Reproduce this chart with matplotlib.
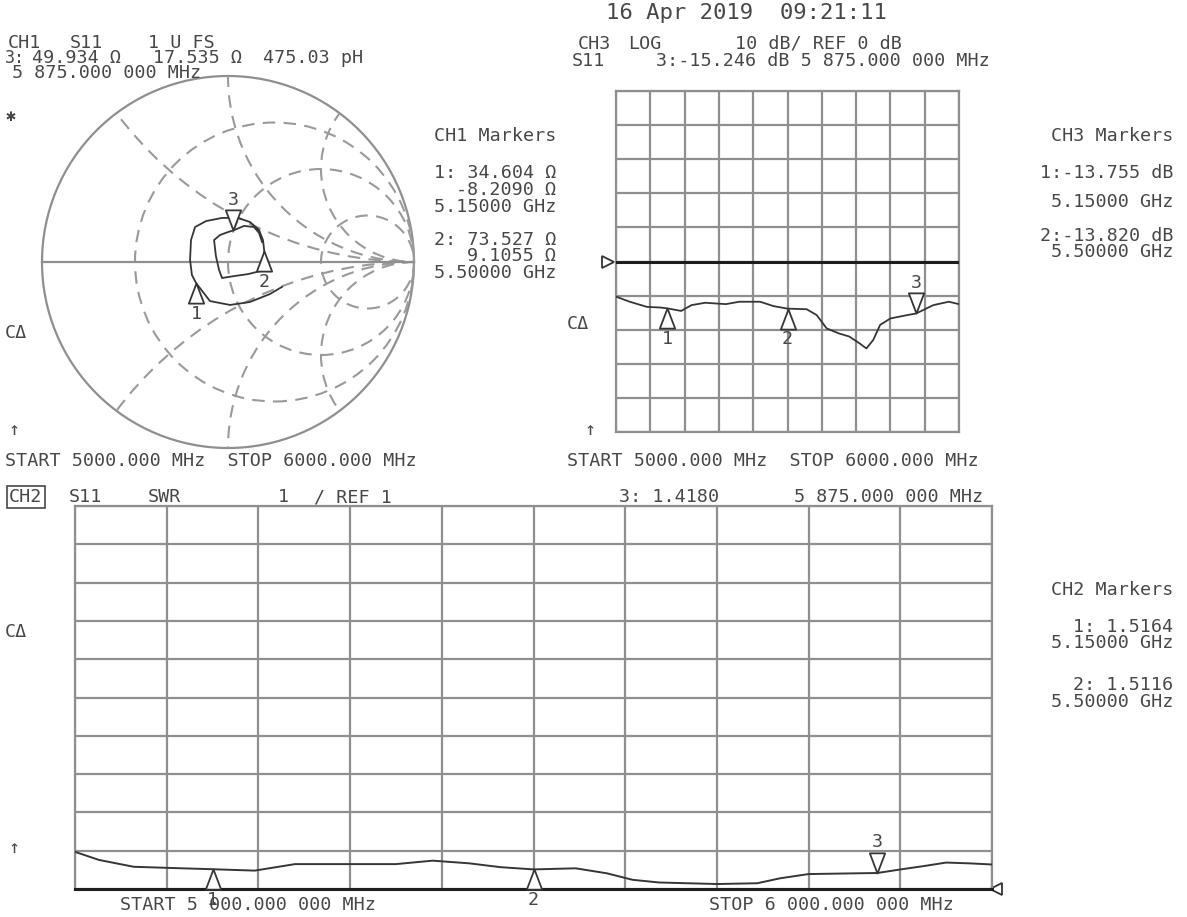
import matplotlib
matplotlib.use('Agg')
import matplotlib.pyplot as plt
import numpy as np
from matplotlib.path import Path
from matplotlib.patches import Circle
import matplotlib.transforms as mtransforms

smith_freq_ghz = [5.00, 5.03, 5.06, 5.09, 5.12, 5.15, 5.18, 5.21, 5.25, 5.29, 5.33,
                  5.37, 5.41, 5.44, 5.47, 5.485, 5.50, 5.53, 5.56, 5.60, 5.64, 5.68,
                  5.71, 5.74, 5.78, 5.82, 5.85, 5.875, 5.90, 5.93, 5.96, 6.00]
gamma_re = [0.290, 0.226, 0.118, 0.011, -0.097, -0.171, -0.194, -0.204, -0.199, -0.177, -0.118,
            -0.032, 0.054, 0.118, 0.167, 0.188, 0.195, 0.188, 0.177, 0.108, 0.038, -0.032,
            -0.048, -0.065, -0.075, -0.043, 0.000, 0.029, 0.086, 0.140, 0.167, 0.183]
gamma_im = [-0.134, -0.172, -0.215, -0.231, -0.210, -0.114, -0.070, 0.011, 0.118, 0.188, 0.220,
            0.237, 0.237, 0.215, 0.172, 0.118, 0.059, 0.000, -0.048, -0.065, -0.075, -0.086,
            -0.043, 0.032, 0.118, 0.145, 0.161, 0.170, 0.194, 0.188, 0.156, 0.108]

logmag_freq_ghz = [5.00, 5.04, 5.09, 5.13, 5.15, 5.19, 5.22, 5.26, 5.32, 5.36, 5.42, 5.46,
                   5.50, 5.556, 5.585, 5.614, 5.65, 5.68, 5.71, 5.73, 5.75, 5.77, 5.80,
                   5.85, 5.875, 5.925, 5.97, 6.00]
logmag_db = [-10.3, -11.8, -13.3, -13.5, -13.755, -14.5, -12.8, -12.1, -12.5, -11.8, -11.8, -13.1,
             -13.82, -14.0, -15.7, -19.6, -21.1, -22.0, -24.0, -25.5, -23.0, -18.6, -16.7,
             -15.7, -15.246, -12.8, -11.8, -12.5]

swr_freq_ghz = [5.000, 5.026, 5.064, 5.117, 5.150, 5.196, 5.240, 5.300, 5.350, 5.390, 5.430,
                5.464, 5.500, 5.546, 5.580, 5.608, 5.637, 5.700, 5.744, 5.769, 5.800, 5.875,
                5.900, 5.926, 5.950, 5.975, 6.000]
swr = [1.97, 1.76, 1.58, 1.54, 1.5164, 1.48, 1.65, 1.65, 1.65, 1.74, 1.67,
       1.57, 1.5116, 1.54, 1.41, 1.24, 1.17, 1.13, 1.15, 1.28, 1.39, 1.418,
       1.51, 1.60, 1.69, 1.67, 1.64]

marker_freqs = [5.15, 5.50, 5.875]
marker_labels = ['1', '2', '3']
marker_down = [False, False, True]

smith_r_circles = [1/3, 1.0, 3.0]
smith_x_arcs = [0.5, 1.0, 2.0, -0.5, -1.0, -2.0]

# ---------------- style ----------------
W, H = 1187, 917
fig = plt.figure(figsize=(W / 100, H / 100), dpi=100)
fig.patch.set_facecolor('white')

TXT = '#474747'
GRID = '#8f8f8f'
TRACE = '#363636'
FAM = ['DejaVu Sans Mono', 'DejaVu Sans']
FS = 13.2


def px_axes(l, t, r, b):
    ax = fig.add_axes([l / W, 1 - b / H, (r - l) / W, (b - t) / H])
    ax.set_facecolor('none')
    return ax


def T(x, y, s, ha='left', size=FS, **kw):
    return fig.text(x / W, 1 - y / H, s, ha=ha, va='center', fontsize=size,
                    family=FAM, color=TXT, **kw)


tri_up = Path([(0, 0), (-0.38, -1), (0.38, -1), (0, 0)],
              [Path.MOVETO, Path.LINETO, Path.LINETO, Path.CLOSEPOLY])
tri_dn = Path([(0, 0), (-0.38, 1), (0.38, 1), (0, 0)],
              [Path.MOVETO, Path.LINETO, Path.LINETO, Path.CLOSEPOLY])


def add_marker(ax, x, y, label, down):
    ax.plot([x], [y], marker=tri_dn if down else tri_up, ms=29, mfc='white',
            mec=TRACE, mew=1.3, ls='none', clip_on=False, zorder=6)
    ax.annotate(label, (x, y), xytext=(0, 22 if down else -22), textcoords='offset points',
                ha='center', va='center', fontsize=FS, family=FAM, color=TXT,
                annotation_clip=False, zorder=7)


def grid_axes(ax, xlim, ylim, nx, ny):
    ax.set_xlim(*xlim)
    ax.set_ylim(*ylim)
    ax.set_xticks(np.linspace(xlim[0], xlim[1], nx + 1))
    ax.set_yticks(np.linspace(ylim[0], ylim[1], ny + 1))
    ax.tick_params(length=0, labelbottom=False, labelleft=False)
    ax.grid(True, color=GRID, lw=1.6)
    for s in ax.spines.values():
        s.set_color(GRID)
        s.set_linewidth(1.6)


# ---------------- Smith chart (CH1) ----------------
cx, cy, R = 228, 262, 186
lim = 1.03
ax1 = px_axes(cx - R * lim, cy - R * lim, cx + R * lim, cy + R * lim)
ax1.set_xlim(-lim, lim)
ax1.set_ylim(-lim, lim)
ax1.axis('off')
clip = Circle((0, 0), 1.0, transform=ax1.transData)
ax1.add_patch(Circle((0, 0), 1.0, fill=False, ec=GRID, lw=1.6))
dash = (0, (6, 4))
for r in smith_r_circles:
    ax1.add_patch(Circle((r / (r + 1), 0), 1 / (r + 1), fill=False, ec='#9a9a9a',
                         lw=1.5, ls=dash))
for xv in smith_x_arcs:
    c = Circle((1, 1 / xv), 1 / abs(xv), fill=False, ec='#9a9a9a', lw=1.5, ls=dash)
    ax1.add_patch(c)
    c.set_clip_path(clip)
ax1.plot([-1, 1], [0, 0], color=GRID, lw=1.6)
ax1.plot(gamma_re, gamma_im, color=TRACE, lw=1.3, zorder=5)
for f, lab, dn in zip(marker_freqs, marker_labels, marker_down):
    i = smith_freq_ghz.index(f)
    add_marker(ax1, gamma_re[i], gamma_im[i], lab, dn)

# ---------------- Log magnitude (CH3) ----------------
ax3 = px_axes(616, 91, 959, 432)
grid_axes(ax3, (5.0, 6.0), (-50, 50), 10, 10)
ax3.axhline(0, color='#1e1e1e', lw=2.2, zorder=4)
ax3.plot(logmag_freq_ghz, logmag_db, color=TRACE, lw=1.3, zorder=5)
bt3 = mtransforms.blended_transform_factory(ax3.transAxes, ax3.transData)
ax3.plot([-0.024], [0], transform=bt3, marker='>', ms=8, mfc='white', mec='#333',
         mew=1.3, clip_on=False)
for f, lab, dn in zip(marker_freqs, marker_labels, marker_down):
    i = logmag_freq_ghz.index(f)
    add_marker(ax3, f, logmag_db[i], lab, dn)

# ---------------- SWR (CH2) ----------------
ax2 = px_axes(75, 506, 992, 889)
grid_axes(ax2, (5.0, 6.0), (1, 11), 10, 10)
ax2.spines['bottom'].set_color('#1e1e1e')
ax2.spines['bottom'].set_linewidth(2.2)
ax2.plot(swr_freq_ghz, swr, color=TRACE, lw=1.4, zorder=5)
bt2 = mtransforms.blended_transform_factory(ax2.transAxes, ax2.transData)
ax2.plot([1.004], [1], transform=bt2, marker='<', ms=8, mfc='white', mec='#333',
         mew=1.3, clip_on=False)
for f, lab, dn in zip(marker_freqs, marker_labels, marker_down):
    i = swr_freq_ghz.index(f)
    add_marker(ax2, f, swr[i], lab, dn)

# ---------------- annotations ----------------
T(746, 13, '16 Apr 2019  09:21:11', ha='center', size=16)

T(8, 43, 'CH1')
T(70, 43, 'S11')
T(148, 43, '1 U FS')
T(5, 58, '3:', size=12)
T(32, 58, '49.934 Ω')
T(153, 58, '17.535 Ω')
T(263, 58, '475.03 pH')
T(12, 73, '5 875.000 000 MHz')
T(6, 116, '✱', size=12)

T(556, 136, 'CH1 Markers', ha='right')
T(556, 173, '1: 34.604 Ω', ha='right')
T(556, 190, '-8.2090 Ω', ha='right')
T(556, 207, '5.15000 GHz', ha='right')
T(556, 240, '2: 73.527 Ω', ha='right')
T(556, 256, '9.1055 Ω', ha='right')
T(556, 273, '5.50000 GHz', ha='right')

T(5, 333, 'CΔ')
T(8, 430, '↑')
T(5, 461, 'START 5000.000 MHz  STOP 6000.000 MHz')

T(578, 44, 'CH3')
T(628, 44, 'LOG')
T(735, 44, '10 dB/ REF 0 dB')
T(572, 61, 'S11')
T(990, 61, '3:-15.246 dB 5 875.000 000 MHz', ha='right')
T(567, 324, 'CΔ')
T(584, 430, '↑')
T(567, 461, 'START 5000.000 MHz  STOP 6000.000 MHz')

T(1173, 136, 'CH3 Markers', ha='right')
T(1173, 173, '1:-13.755 dB', ha='right')
T(1173, 202, '5.15000 GHz', ha='right')
T(1173, 236, '2:-13.820 dB', ha='right')
T(1173, 252, '5.50000 GHz', ha='right')

T(9, 497, 'CH2', bbox=dict(boxstyle='square,pad=0.12', fc='white', ec=TXT, lw=1.2))
T(69, 497, 'S11')
T(148, 497, 'SWR')
T(278, 497, '1')
T(314, 497, '/ REF 1')
T(619, 497, '3: 1.4180')
T(983, 497, '5 875.000 000 MHz', ha='right')
T(5, 632, 'CΔ')
T(8, 848, '↑')
T(120, 905, 'START 5 000.000 000 MHz')
T(709, 905, 'STOP 6 000.000 000 MHz')

T(1173, 590, 'CH2 Markers', ha='right')
T(1173, 627, '1: 1.5164', ha='right')
T(1173, 643, '5.15000 GHz', ha='right')
T(1173, 685, '2: 1.5116', ha='right')
T(1173, 702, '5.50000 GHz', ha='right')

fig.savefig('out.png', dpi=100, facecolor='white')
